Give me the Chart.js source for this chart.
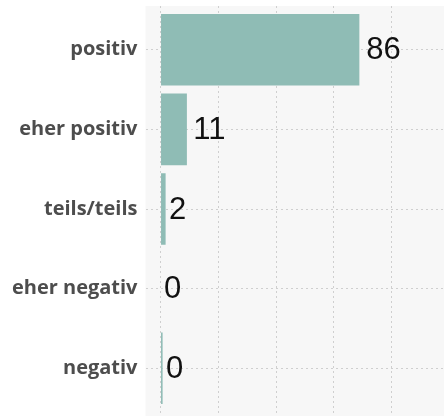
<!DOCTYPE html>
<html>
<head>
<meta charset="utf-8">
<script src="https://cdn.jsdelivr.net/npm/chart.js@4/dist/chart.umd.min.js"></script>
<style>
    html, body { margin: 0; padding: 0; background: #ffffff; }
    #chart { display: block; }
</style>
</head>
<body>
<canvas id="chart" width="444" height="416"></canvas>
<script>
var categories = ['positiv', 'eher positiv', 'teils/teils', 'eher negativ', 'negativ'];
var shares = [86.0, 11.4, 2.2, 0, 0.9];
var shareLabels = ['86', '11', '2', '0', '0'];
var gridTicks = [0, 25, 50, 75, 100];

// panel background like ggplot
var panelBackground = {
    id: 'panelBackground',
    beforeDraw: function(chart) {
        var area = chart.chartArea;
        var ctx = chart.ctx;
        ctx.save();
        ctx.fillStyle = '#f7f7f7';
        ctx.fillRect(area.left, area.top, area.right - area.left, area.bottom - area.top);
        ctx.restore();
    }
};

// value text right of each bar, shifted by a fifth of its own width
var valueLabels = {
    id: 'valueLabels',
    afterDatasetsDraw: function(chart) {
        var ctx = chart.ctx;
        var meta = chart.getDatasetMeta(0);
        ctx.save();
        ctx.font = '31px "Liberation Sans", Arial, sans-serif';
        ctx.fillStyle = '#111111';
        ctx.textAlign = 'left';
        ctx.textBaseline = 'middle';
        meta.data.forEach(function(bar, i) {
            var text = shareLabels[i];
            var w = ctx.measureText(text).width;
            ctx.fillText(text, bar.x + 0.2 * w, bar.y + 1);
        });
        ctx.restore();
    }
};

var config = {
    type: 'bar',
    plugins: [panelBackground, valueLabels],
    data: {
        datasets: [{
            data: shares.map(function(v, i) { return { x: v, y: i }; }),
            backgroundColor: '#8fbcb5',
            borderWidth: 0,
            barPercentage: 0.9,
            categoryPercentage: 1
        }]
    },
    options: {
        indexAxis: 'y',
        responsive: false,
        animation: false,
        layout: { padding: { top: 6, right: 0, bottom: 0, left: 0 } },
        plugins: {
            legend: { display: false },
            tooltip: { enabled: false }
        },
        scales: {
            x: {
                type: 'linear',
                min: -6.5,
                max: 122.6,
                offset: false,
                grid: {
                    color: '#cfcfcf',
                    drawTicks: false
                },
                border: { display: false, dash: [2, 3] },
                afterBuildTicks: function(scale) {
                    scale.ticks = gridTicks.map(function(v) { return { value: v }; });
                },
                afterFit: function(scale) {
                    scale.height = 0;
                    scale.paddingLeft = 0;
                    scale.paddingRight = 0;
                },
                ticks: { display: false }
            },
            y: {
                type: 'linear',
                reverse: true,
                min: -0.55,
                max: 4.6,
                offset: false,
                grid: {
                    color: '#cfcfcf',
                    drawTicks: false,
                    offset: false
                },
                border: { display: false, dash: [2, 3] },
                afterBuildTicks: function(scale) {
                    scale.ticks = categories.map(function(c, i) { return { value: i }; });
                },
                afterFit: function(scale) {
                    scale.width = 145.5;
                    scale.paddingTop = 0;
                    scale.paddingBottom = 0;
                },
                ticks: {
                    padding: 8,
                    color: '#4d4d4d',
                    font: { family: '"Open Sans", sans-serif', size: 20, weight: 'bold' },
                    callback: function(value) {
                        return categories[value];
                    }
                }
            }
        }
    }
};

new Chart(document.getElementById('chart'), config);
</script>
</body>
</html>
